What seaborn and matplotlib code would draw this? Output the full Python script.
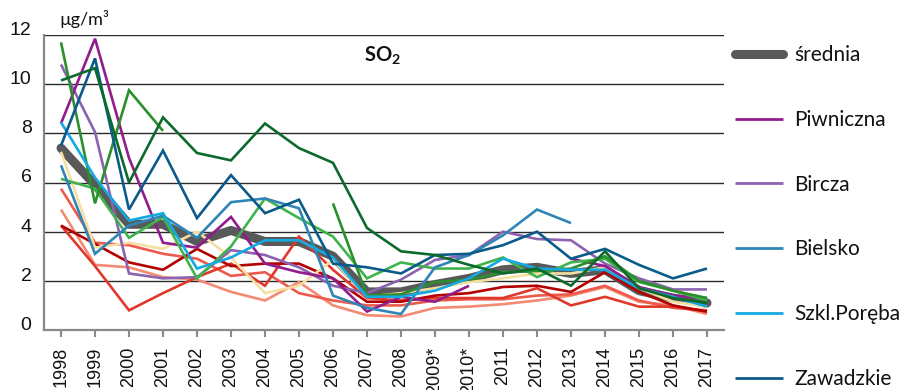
import numpy as np
import pandas as pd
import matplotlib
matplotlib.use("Agg")
import matplotlib.pyplot as plt
from matplotlib.lines import Line2D
import seaborn as sns

sns.set_theme(style="white")
plt.rcParams["font.family"] = ["Lato", "DejaVu Sans"]
plt.rcParams["mathtext.fontset"] = "custom"
plt.rcParams["mathtext.rm"] = "Lato"
plt.rcParams["mathtext.bf"] = "Lato:bold"

nan = np.nan

years = ["1998", "1999", "2000", "2001", "2002", "2003", "2004", "2005", "2006",
         "2007", "2008", "2009*", "2010*", "2011", "2012", "2013", "2014",
         "2015", "2016", "2017"]

# annual mean SO2 concentrations, µg/m3
srednia = [7.4, 5.9, 4.3, 4.3, 3.6, 4.05, 3.6, 3.6, 3.0, 1.55, 1.55, 1.85, 2.1,
           2.45, 2.55, 2.3, 2.45, 1.6, 1.3, 1.1]
piwniczna = [8.4, 11.85, 7.0, 3.55, 3.35, 4.6, 2.7, 2.35, 2.1, 0.75, 1.35, 1.15,
             1.8, nan, nan, 2.9, 2.6, 1.75, 1.4, 1.3]
bircza = [10.8, 8.05, 2.3, 2.1, 2.15, 3.25, 3.05, 2.55, 1.8, 1.5, 2.05, 2.85,
          3.05, 4.0, 3.7, 3.65, 2.7, 2.1, 1.65, 1.65]
bielsko = [6.7, 3.1, 4.25, 4.65, 3.75, 5.2, 5.35, 4.95, 1.4, 0.9, 0.65, 2.55,
           3.05, 3.85, 4.9, 4.35, nan, nan, nan, nan]
szkl_poreba = [8.45, 6.2, 4.45, 4.75, 2.5, 2.95, 3.65, 3.65, 2.95, 1.35, 1.35,
               1.6, 2.1, 2.9, 2.5, 2.45, 2.45, 1.7, 1.35, 0.95]
zawadzkie = [7.5, 11.05, 4.9, 7.3, 4.55, 6.3, 4.75, 5.3, 2.7, 2.55, 2.3, 3.05,
             3.1, 3.45, 4.0, 2.9, 3.3, 2.65, 2.1, 2.5]
stacja_7 = [10.15, 10.65, 6.0, 8.65, 7.2, 6.9, 8.4, 7.4, 6.8, 4.15, 3.2, 3.05,
            2.65, 2.3, 2.5, 1.8, 3.2, 1.7, 1.3, 1.1]
stacja_8 = [11.7, 5.15, 9.75, 8.1, nan, nan, nan, nan, 5.15, 1.4, 1.45, 1.95,
            2.05, 2.35, 2.4, 2.5, 3.0, 2.0, 1.6, 1.3]
stacja_9 = [6.15, 5.75, 3.75, 4.6, 2.1, 3.4, 5.35, 4.55, 3.8, 2.1, 2.75, 2.5,
            2.5, 2.95, 2.15, 2.75, 2.9, 1.95, 1.6, 1.2]
stacja_10 = [7.25, 3.35, 3.55, 3.3, 4.0, 2.95, 1.5, 1.8, 2.85, 1.35, 1.5, 1.7,
             1.95, 2.1, 2.3, 2.3, 2.55, 1.7, 1.15, 0.95]
stacja_11 = [4.25, 2.6, 0.8, 1.5, 2.15, 2.7, 1.8, 3.8, 2.45, 1.3, 1.2, 1.3, 1.3,
             1.3, 1.7, 1.0, 1.35, 0.95, 0.95, 0.75]
stacja_12 = [4.9, 2.65, 2.55, 2.15, 2.05, 1.55, 1.2, 1.95, 1.0, 0.6, 0.55, 0.9,
             0.95, 1.05, 1.2, 1.4, 1.75, 1.15, 1.0, 0.65]
stacja_13 = [5.75, 3.55, 3.45, 3.1, 2.9, 2.2, 2.35, 1.5, 1.2, 1.0, 1.0, 1.2,
             1.25, 1.25, 1.4, 1.45, 1.8, 1.2, 0.9, 0.8]
stacja_14 = [4.25, 3.5, 2.75, 2.45, 3.3, 2.6, 2.7, 2.7, 2.1, 1.15, 1.15, 1.4,
             1.5, 1.75, 1.8, 1.55, 2.35, 1.55, 1.0, 0.75]

legend_labels = ["średnia", "Piwniczna", "Bircza", "Bielsko", "Szkl.Poręba",
                 "Zawadzkie"]

colors = {
    "średnia": "#595959",
    "Piwniczna": "#921c8c",
    "Bircza": "#8b63b0",
    "Bielsko": "#2f86b6",
    "Szkl.Poręba": "#14a9e1",
    "Zawadzkie": "#0b5b8a",
    "stacja_7": "#0d6a2d",
    "stacja_8": "#2b8f2b",
    "stacja_9": "#3fb34c",
    "stacja_10": "#f5dfa2",
    "stacja_11": "#e0392b",
    "stacja_12": "#f38a73",
    "stacja_13": "#ec5a4d",
    "stacja_14": "#b30000",
}

series = [
    ("średnia", srednia), ("stacja_12", stacja_12), ("stacja_13", stacja_13),
    ("stacja_11", stacja_11), ("stacja_14", stacja_14), ("stacja_10", stacja_10),
    ("Bircza", bircza), ("Piwniczna", piwniczna), ("stacja_9", stacja_9),
    ("stacja_8", stacja_8), ("Bielsko", bielsko), ("Szkl.Poręba", szkl_poreba),
    ("Zawadzkie", zawadzkie), ("stacja_7", stacja_7),
]

fig = plt.figure(figsize=(9.08, 3.90), dpi=100)
ax = fig.add_axes([44 / 908, 1 - 330 / 390, 680 / 908, 295 / 390])

x = np.arange(len(years))


def draw(name, values, order):
    df = pd.DataFrame({"rok": x, "stezenie": values})
    valid = df["stezenie"].notna()
    groups = (~valid).cumsum()[valid]
    thick = name == "średnia"
    for _, part in df[valid].groupby(groups):
        sns.lineplot(data=part, x="rok", y="stezenie", ax=ax,
                     color=colors[name], lw=6.5 if thick else 1.9,
                     zorder=order, estimator=None, legend=False,
                     solid_capstyle="round" if thick else "butt",
                     solid_joinstyle="round" if thick else "miter")


for i, (name, values) in enumerate(series):
    draw(name, values, 3 + i)

ax.set_xlim(-0.5, len(years) - 0.5)
ax.set_ylim(0, 12)
ax.set_xticks(x)
ax.set_xticklabels(years, rotation=90, fontsize=13, family="Liberation Sans",
                   color="#111111")
ax.set_yticks(range(0, 13, 2))
ax.set_yticklabels([str(v) for v in range(0, 13, 2)], fontsize=14,
                   family="Liberation Sans", color="#111111")
for lab in ax.get_yticklabels():
    lab.set_va("baseline")
ax.set_xlabel("")
ax.set_ylabel("")

ax.yaxis.grid(True, color="#2a2a2a", lw=1.0)
ax.xaxis.grid(False)
ax.set_axisbelow(True)
for side in ["top", "right"]:
    ax.spines[side].set_visible(False)
for side in ["left", "bottom"]:
    ax.spines[side].set_color("#8a8a8a")
    ax.spines[side].set_linewidth(1.6)
ax.tick_params(axis="x", length=5, width=1.5, color="#8a8a8a", pad=7,
               bottom=True)
ax.tick_params(axis="y", length=0, pad=9, left=False)

fig.text(59 / 908, 1 - 25 / 390, "µg/m³", fontsize=13, color="#111111",
         ha="left", va="baseline")
fig.text(383 / 908, 1 - 56 / 390, r"SO$_\mathbf{2}$", fontsize=14.5,
         fontweight="bold", color="#111111", ha="center", va="center")

handles = [Line2D([0], [0], color=colors[n], lw=6.5 if n == "średnia" else 2.0,
                  solid_capstyle="round" if n == "średnia" else "butt")
           for n in legend_labels]
fig.legend(handles, legend_labels, loc="upper left",
           bbox_to_anchor=(735 / 908, 1 - 45 / 390), frameon=False,
           fontsize=15, handlelength=2.3, handletextpad=0.55,
           labelspacing=2.15, borderpad=0, borderaxespad=0,
           labelcolor="#111111")

fig.savefig("out.png", dpi=100)
